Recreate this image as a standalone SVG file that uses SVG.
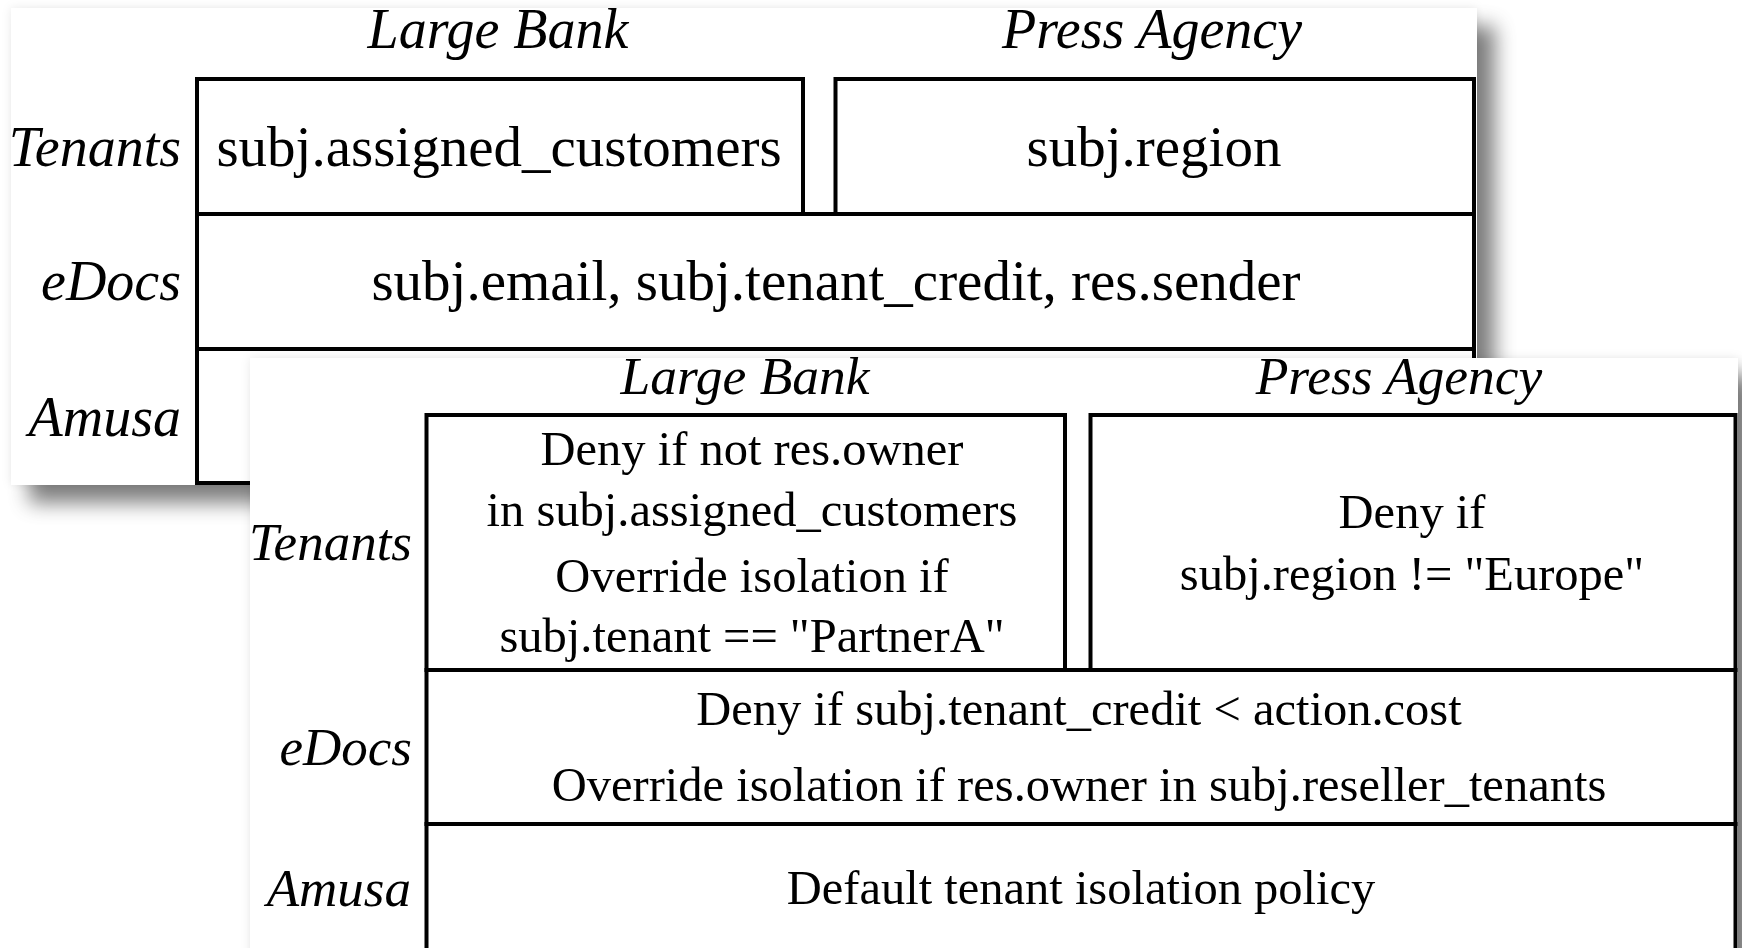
<svg xmlns="http://www.w3.org/2000/svg" width="1742" height="948" viewBox="0 0 1742 948">
  <defs>
    <!-- soft drop shadow plus faint halo behind each card -->
    <filter id="cardShadow" x="-10%" y="-15%" width="125%" height="135%">
      <feGaussianBlur in="SourceAlpha" stdDeviation="10" result="blur"/>
      <feOffset in="blur" dx="18" dy="18" result="off"/>
      <feFlood flood-color="#000" flood-opacity="0.5"/>
      <feComposite in2="off" operator="in" result="shadow"/>
      <feGaussianBlur in="SourceAlpha" stdDeviation="5" result="glow"/>
      <feFlood flood-color="#000" flood-opacity="0.09"/>
      <feComposite in2="glow" operator="in" result="halo"/>
      <feMerge>
        <feMergeNode in="halo"/>
        <feMergeNode in="shadow"/>
      </feMerge>
    </filter>
    <style>
      .card { fill: #fff; }
      .cell { fill: none; stroke: #000; stroke-width: 4; }
      .hdr { font-family: "Liberation Serif", "Times New Roman", serif; font-style: italic; text-anchor: middle; fill: #000; }
      .lbl { font-family: "Liberation Serif", "Times New Roman", serif; font-style: italic; text-anchor: end; fill: #000; }
      .txt { font-family: "Liberation Serif", "Times New Roman", serif; text-anchor: middle; fill: #000; }
      .back .hdr, .back .lbl { font-size: 56px; }
      .back .txt { font-size: 57px; }
      .front .hdr { font-size: 53.5px; }
      .front .lbl { font-size: 53px; }
      .front .txt { font-size: 48.5px; }
    </style>
  </defs>

  <rect x="0" y="0" width="1742" height="948" fill="#fff"/>

  <!-- Back card: attributes per tenant / application -->
  <g id="attributes-card" class="back">
    <rect x="11" y="8" width="1466" height="477" fill="#fff" filter="url(#cardShadow)"/>
    <rect class="card" x="11" y="8" width="1466" height="477"/>
    <g id="attr-header-large-bank"><text class="hdr" x="498" y="48">Large Bank</text></g>
    <g id="attr-header-press-agency"><text class="hdr" x="1152" y="48">Press Agency</text></g>
    <g id="attr-label-tenants"><text class="lbl" x="181" y="166">Tenants</text></g>
    <g id="attr-label-edocs"><text class="lbl" x="181" y="300">eDocs</text></g>
    <g id="attr-label-amusa"><text class="lbl" x="181" y="436">Amusa</text></g>
    <g id="attr-tenants-large-bank">
      <rect class="cell" x="197" y="79" width="606" height="135"/>
      <text class="txt" x="499" y="166">subj.assigned_customers</text>
    </g>
    <g id="attr-tenants-press-agency">
      <rect class="cell" x="835.5" y="79" width="638.5" height="135"/>
      <text class="txt" x="1154" y="166">subj.region</text>
    </g>
    <g id="attr-edocs">
      <rect class="cell" x="197" y="214" width="1277" height="135"/>
      <text class="txt" x="836" y="300">subj.email, subj.tenant_credit, res.sender</text>
    </g>
    <g id="attr-amusa">
      <rect class="cell" x="197" y="349" width="1277" height="134"/>
    </g>
  </g>

  <!-- Front card: policies per tenant / application -->
  <g id="policies-card" class="front">
    <rect x="250" y="358" width="1488" height="760" fill="#fff" filter="url(#cardShadow)"/>
    <rect class="card" x="250" y="358" width="1488" height="760"/>
    <g id="pol-header-large-bank"><text class="hdr" x="745" y="394">Large Bank</text></g>
    <g id="pol-header-press-agency"><text class="hdr" x="1399" y="394">Press Agency</text></g>
    <g id="pol-label-tenants"><text class="lbl" x="412" y="560">Tenants</text></g>
    <g id="pol-label-edocs"><text class="lbl" x="412" y="765">eDocs</text></g>
    <g id="pol-label-amusa"><text class="lbl" x="411" y="906">Amusa</text></g>
    <g id="pol-tenants-large-bank">
      <rect class="cell" x="426.5" y="415" width="638.5" height="255"/>
      <text class="txt" x="752" y="465">Deny if not res.owner</text>
      <text class="txt" x="752" y="526">in subj.assigned_customers</text>
      <text class="txt" x="752" y="592">Override isolation if</text>
      <text class="txt" x="752" y="652">subj.tenant == "PartnerA"</text>
    </g>
    <g id="pol-tenants-press-agency">
      <rect class="cell" x="1090.5" y="415" width="645" height="255"/>
      <text class="txt" x="1412" y="528">Deny if</text>
      <text class="txt" x="1412" y="590">subj.region != "Europe"</text>
    </g>
    <g id="pol-edocs">
      <rect class="cell" x="426.5" y="670" width="1309" height="154"/>
      <text class="txt" x="1079" y="725">Deny if subj.tenant_credit &lt; action.cost</text>
      <text class="txt" x="1079" y="801">Override isolation if res.owner in subj.reseller_tenants</text>
    </g>
    <g id="pol-amusa">
      <rect class="cell" x="426.5" y="824" width="1309" height="260"/>
      <text class="txt" x="1081" y="904">Default tenant isolation policy</text>
    </g>
  </g>

  <g id="connectors"/>
</svg>
